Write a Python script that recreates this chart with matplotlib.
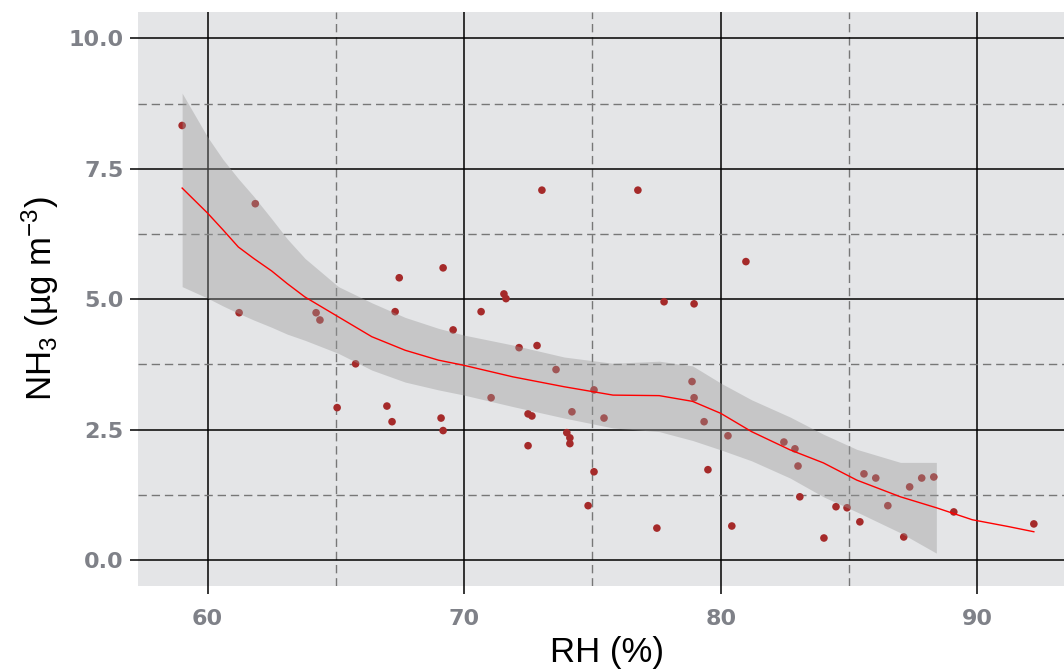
import numpy as np
import matplotlib.pyplot as plt

plt.rcParams['font.family'] = ['Liberation Sans', 'DejaVu Sans']
plt.rcParams['mathtext.fontset'] = 'custom'
plt.rcParams['mathtext.rm'] = 'Liberation Sans'
plt.rcParams['mathtext.it'] = 'Liberation Sans:italic'

# observations: relative humidity (%) vs NH3 (ug m-3)
rh = [59.01, 61.86, 61.23, 67.47, 69.18, 64.23, 64.38, 67.31, 69.57, 65.77,
      65.05, 66.99, 67.19, 69.10, 69.18, 70.66, 71.55, 71.63, 72.14, 72.84,
      73.58, 71.05, 72.49, 72.64, 74.20, 75.06, 75.45, 72.49, 74.00, 74.12,
      74.12, 75.06, 74.83, 77.51, 73.03, 76.77, 80.98, 77.79, 78.96, 78.88,
      78.96, 79.35, 80.28, 79.50, 80.43, 82.46, 82.89, 83.01, 83.08, 84.02,
      84.49, 84.92, 85.42, 85.58, 86.04, 86.51, 87.13, 87.36, 87.83, 88.30,
      89.08, 92.20]
nh3 = [8.33, 6.83, 4.74, 5.41, 5.60, 4.74, 4.60, 4.76, 4.41, 3.76,
       2.92, 2.95, 2.65, 2.72, 2.48, 4.76, 5.10, 5.01, 4.07, 4.11,
       3.65, 3.11, 2.80, 2.76, 2.84, 3.26, 2.72, 2.19, 2.44, 2.34,
       2.23, 1.69, 1.04, 0.61, 7.09, 7.09, 5.72, 4.95, 4.91, 3.42,
       3.11, 2.65, 2.38, 1.73, 0.65, 2.26, 2.13, 1.80, 1.21, 0.42,
       1.02, 1.00, 0.73, 1.65, 1.57, 1.04, 0.44, 1.40, 1.57, 1.59,
       0.92, 0.69]

# loess fit with confidence band (band dropped where it leaves the y range)
fit_x = [59.01, 60.0, 60.6, 61.2, 61.8, 62.5, 63.1, 63.8, 65.1, 66.4,
         67.7, 69.0, 70.0, 71.9, 73.9, 75.8, 77.6, 78.9, 80.0, 81.2,
         82.7, 84.0, 85.3, 87.0, 88.4, 89.8, 91.2, 92.2]
fit_y = [7.13, 6.65, 6.33, 6.00, 5.78, 5.54, 5.30, 5.04, 4.66, 4.28,
         4.02, 3.83, 3.73, 3.51, 3.32, 3.16, 3.15, 3.04, 2.81, 2.46,
         2.11, 1.86, 1.53, 1.21, 1.00, 0.77, 0.64, 0.54]
fit_hi = [8.95, 8.11, 7.68, 7.31, 6.97, 6.54, 6.16, 5.78, 5.24, 4.93,
          4.65, 4.44, 4.31, 4.12, 3.89, 3.77, 3.81, 3.72, 3.39, 3.07,
          2.74, 2.41, 2.12, 1.87, 1.87, np.nan, np.nan, np.nan]
fit_lo = [5.24, 5.02, 4.87, 4.73, 4.60, 4.46, 4.33, 4.21, 3.96, 3.64,
          3.41, 3.26, 3.16, 2.94, 2.72, 2.53, 2.46, 2.29, 2.11, 1.90,
          1.57, 1.21, 0.92, 0.52, 0.13, np.nan, np.nan, np.nan]

fig = plt.figure(figsize=(10.64, 6.70), dpi=100)
ax = fig.add_axes([0.1297, 0.1254, 0.882, 0.857])
ax.set_facecolor('#E4E5E7')

ax.set_xlim(57.29, 93.86)
ax.set_ylim(-0.5, 10.51)
ax.set_xticks([60, 70, 80, 90])
ax.set_yticks([0, 2.5, 5, 7.5, 10])
ax.set_yticklabels(['0.0', '2.5', '5.0', '7.5', '10.0'])

# grid: solid black majors, dashed grey minors
for v in [60, 70, 80, 90]:
    ax.axvline(v, color='black', lw=1.1, zorder=1)
for v in [65, 75, 85]:
    ax.axvline(v, color='#777777', lw=1.0, ls=(0, (6, 3.5)), zorder=1)
for v in [0, 2.5, 5, 7.5, 10]:
    ax.axhline(v, color='black', lw=1.1, zorder=1)
for v in [1.25, 3.75, 6.25, 8.75]:
    ax.axhline(v, color='#777777', lw=1.0, ls=(0, (6, 3.5)), zorder=1)

ax.scatter(rh, nh3, s=30, color='#A52A2A', edgecolors='none', zorder=2)
ax.fill_between(fit_x, fit_lo, fit_hi, color='#999999', alpha=0.4,
                lw=0, zorder=3)
ax.plot(fit_x, fit_y, color='red', lw=1.0, zorder=4)

for s in ax.spines.values():
    s.set_visible(False)
ax.tick_params(axis='both', length=5.5, width=1.1, color='black')
ax.tick_params(axis='x', pad=11)
ax.tick_params(axis='y', pad=5)
for lab in ax.get_xticklabels() + ax.get_yticklabels():
    lab.set_fontfamily('DejaVu Sans')
    lab.set_fontweight('bold')
    lab.set_fontsize(16)
    lab.set_color('#7F8188')

ax.set_xlabel('RH (%)', fontsize=25, labelpad=5)
ax.set_ylabel(r'NH$_3$ (µg m$^{-3}$)', fontsize=25, labelpad=5)

fig.savefig('out.png', dpi=100)
